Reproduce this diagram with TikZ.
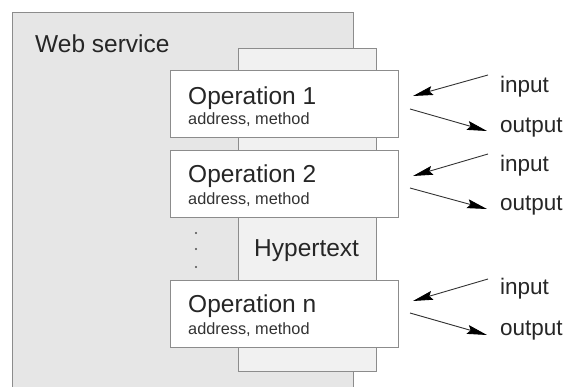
\documentclass[tikz,border=0pt]{standalone}
\usepackage{fontspec}
\setmainfont{Liberation Sans}
\usetikzlibrary{arrows.meta}
\definecolor{wsfill}{HTML}{E6E6E6}
\definecolor{htfill}{HTML}{F1F1F1}
\definecolor{boxline}{HTML}{8C8C8C}
\definecolor{arrowcol}{HTML}{333333}
\tikzset{
  box/.style={draw=boxline, line width=1pt, inner sep=0pt, anchor=north west},
  opbox/.style={box, fill=white, minimum width=228pt, minimum height=67pt},
  bigtxt/.style={inner sep=0pt, anchor=base west, font=\fontsize{24.5pt}{26pt}\selectfont, text=black!85},
  iotxt/.style={inner sep=0pt, anchor=base west, font=\fontsize{22.5pt}{24pt}\selectfont, text=black!85},
  smalltxt/.style={inner sep=0pt, anchor=base west, font=\fontsize{16.3pt}{18pt}\selectfont, text=black!80},
  io/.style={draw=arrowcol, line width=0.9pt, -{Stealth[length=20pt,width=9pt,inset=3pt,fill=black,color=black]}},
  dotn/.style={circle, fill=black!70, inner sep=0pt, minimum size=2.2pt}
}
\begin{document}
\begin{tikzpicture}[x=1pt,y=-1pt]
\useasboundingbox (0,0) rectangle (566,387);
\clip (0,0) rectangle (566,387);
% web service box (bottom cut off)
\node[box, fill=wsfill, minimum width=341pt, minimum height=400pt] (ws) at (12,12) {};
\node[bigtxt] (wst) at (35,53) {Web service};
% hypertext box
\node[box, fill=htfill, minimum width=138pt, minimum height=323pt] (ht) at (238,48) {};
\node[bigtxt] (htt) at (254,257) {Hypertext};
% operations
\node[opbox] (op1) at (170,70) {};
\node[opbox] (op2) at (170,150) {};
\node[opbox] (opn) at (170,280) {};
\node[bigtxt] (op1t) at (188,105) {Operation 1};
\node[smalltxt] (op1s) at (188,125) {address, method};
\node[bigtxt] (op2t) at (188,183) {Operation 2};
\node[smalltxt] (op2s) at (188,205) {address, method};
\node[bigtxt] (opnt) at (188,313) {Operation n};
\node[smalltxt] (opns) at (188,335) {address, method};
% dots
\node[dotn] (d1) at (196,233) {};
\node[dotn] (d2) at (196,249) {};
\node[dotn] (d3) at (196,267) {};
% input / output labels
\node[iotxt] (in1) at (500,93) {input};
\node[iotxt] (out1) at (500,133) {output};
\node[iotxt] (in2) at (500,172) {input};
\node[iotxt] (out2) at (500,211) {output};
\node[iotxt] (in3) at (500,295) {input};
\node[iotxt] (out3) at (500,336) {output};
% arrow end points
\coordinate (i1s) at (488,75);  \coordinate (i1e) at (413,96);
\coordinate (o1s) at (410,109); \coordinate (o1e) at (487,131);
\coordinate (i2s) at (488,154); \coordinate (i2e) at (413,176);
\coordinate (o2s) at (410,188); \coordinate (o2e) at (487,209);
\coordinate (i3s) at (488,279); \coordinate (i3e) at (413,301);
\coordinate (o3s) at (410,313); \coordinate (o3e) at (487,335);
\draw[io] (i1s) -- (i1e);
\draw[io] (o1s) -- (o1e);
\draw[io] (i2s) -- (i2e);
\draw[io] (o2s) -- (o2e);
\draw[io] (i3s) -- (i3e);
\draw[io] (o3s) -- (o3e);
\end{tikzpicture}
\end{document}
